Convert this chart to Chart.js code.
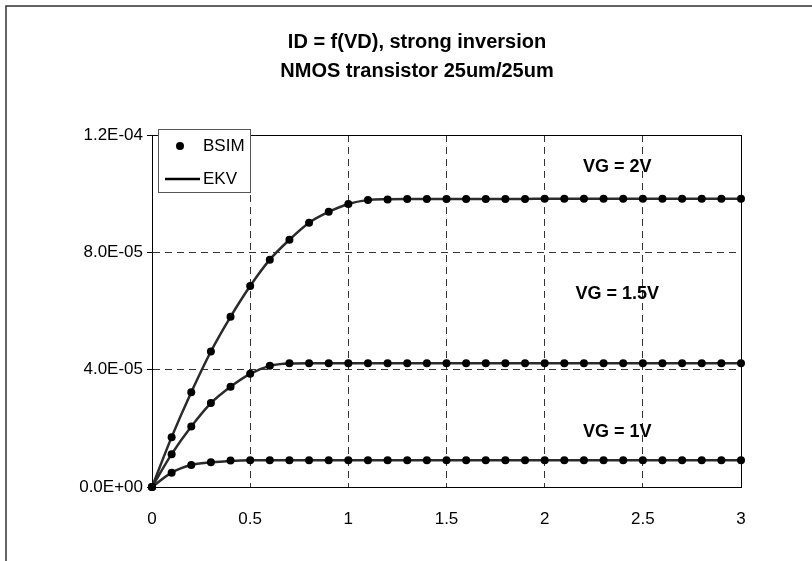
<!DOCTYPE html>
<html>
<head>
<meta charset="utf-8">
<script src="https://cdn.jsdelivr.net/npm/chart.js@4.4.1/dist/chart.umd.min.js"></script>
<style>
  html, body { margin: 0; padding: 0; background: #fff; }
  #wrap { width: 812px; height: 561px; }
</style>
</head>
<body>
<div id="wrap"><canvas id="chart" width="812" height="561"></canvas></div>
<script>
// VD (V)
const vd = [0, 0.1, 0.2, 0.3, 0.4, 0.5, 0.6, 0.7, 0.8, 0.9,
            1.0, 1.1, 1.2, 1.3, 1.4, 1.5, 1.6, 1.7, 1.8, 1.9,
            2.0, 2.1, 2.2, 2.3, 2.4, 2.5, 2.6, 2.7, 2.8, 2.9, 3.0];

// ID in units of 1e-5 A
const bsimVg2  = [0, 1.70, 3.23, 4.62, 5.80, 6.85, 7.75, 8.43, 9.01, 9.38,
                  9.65, 9.78, 9.80, 9.82, 9.82, 9.82, 9.82, 9.82, 9.82, 9.82,
                  9.83, 9.83, 9.83, 9.83, 9.83, 9.83, 9.83, 9.83, 9.83, 9.83, 9.83];
const bsimVg15 = [0, 1.12, 2.06, 2.86, 3.42, 3.86, 4.13, 4.22, 4.22, 4.22,
                  4.22, 4.22, 4.22, 4.22, 4.22, 4.22, 4.22, 4.22, 4.22, 4.22,
                  4.22, 4.22, 4.22, 4.22, 4.22, 4.22, 4.22, 4.22, 4.22, 4.22, 4.22];
const bsimVg1  = [0, 0.49, 0.75, 0.84, 0.90, 0.91, 0.91, 0.91, 0.91, 0.91,
                  0.91, 0.91, 0.91, 0.91, 0.91, 0.91, 0.91, 0.91, 0.91, 0.91,
                  0.91, 0.91, 0.91, 0.91, 0.91, 0.91, 0.91, 0.91, 0.91, 0.91, 0.91];

const ekvVg2  = [0, 1.70, 3.23, 4.62, 5.80, 6.85, 7.75, 8.43, 9.01, 9.38,
                 9.65, 9.78, 9.81, 9.82, 9.82, 9.82, 9.82, 9.82, 9.82, 9.82,
                 9.83, 9.83, 9.83, 9.83, 9.83, 9.83, 9.83, 9.83, 9.83, 9.83, 9.83];
const ekvVg15 = [0, 1.12, 2.06, 2.86, 3.42, 3.86, 4.13, 4.21, 4.22, 4.22,
                 4.22, 4.22, 4.22, 4.22, 4.22, 4.22, 4.22, 4.22, 4.22, 4.22,
                 4.22, 4.22, 4.22, 4.22, 4.22, 4.22, 4.22, 4.22, 4.22, 4.22, 4.22];
const ekvVg1  = [0, 0.49, 0.75, 0.84, 0.89, 0.91, 0.91, 0.91, 0.91, 0.91,
                 0.91, 0.91, 0.91, 0.91, 0.91, 0.91, 0.91, 0.91, 0.91, 0.91,
                 0.91, 0.91, 0.91, 0.91, 0.91, 0.91, 0.91, 0.91, 0.91, 0.91, 0.91];

const titleLines = ['ID = f(VD), strong inversion', 'NMOS transistor 25um/25um'];
const curveLabels = ['VG = 2V', 'VG = 1.5V', 'VG = 1V'];
const xTicks = [0, 0.5, 1, 1.5, 2, 2.5, 3];
const yTicks = [0, 4e-5, 8e-5, 1.2e-4];

const FONT = '"Liberation Sans", Arial, sans-serif';

function pts(ys) {
    return vd.map((x, i) => ({ x: x, y: ys[i] * 1e-5 }));
}

function sci(v) {
    const s = v.toExponential(1).split('e');
    const e = parseInt(s[1], 10);
    return s[0] + 'E' + (e < 0 ? '-' : '+') + String(Math.abs(e)).padStart(2, '0');
}

const bsimStyle = {
    showLine: false,
    pointRadius: 4,
    pointBackgroundColor: '#000',
    pointBorderColor: '#000',
    pointBorderWidth: 0,
    clip: false
};
const ekvStyle = {
    showLine: true,
    pointRadius: 0,
    borderColor: '#2b2b2b',
    borderWidth: 2.5,
    cubicInterpolationMode: 'monotone',
    clip: false
};

const chromePlugin = {
    id: 'chrome',
    beforeDraw(chart) {
        const ctx = chart.ctx;
        ctx.save();
        ctx.fillStyle = '#fff';
        ctx.fillRect(0, 0, chart.width, chart.height);
        // outer chart frame (continues past the picture edges)
        ctx.strokeStyle = '#333';
        ctx.lineWidth = 1.5;
        ctx.beginPath();
        ctx.moveTo(6, chart.height + 2);
        ctx.lineTo(6, 6);
        ctx.lineTo(chart.width + 2, 6);
        ctx.stroke();
        // title
        ctx.fillStyle = '#000';
        ctx.font = 'bold 20px ' + FONT;
        ctx.textAlign = 'center';
        ctx.textBaseline = 'middle';
        ctx.fillText(titleLines[0], 417, 42);
        ctx.fillText(titleLines[1], 417, 71);
        ctx.restore();
    },
    beforeDatasetsDraw(chart) {
        const {ctx, chartArea: a} = chart;
        ctx.save();
        ctx.strokeStyle = '#000';
        ctx.lineWidth = 1;
        ctx.beginPath();
        ctx.moveTo(a.left, a.top + 0.5);
        ctx.lineTo(a.right + 0.5, a.top + 0.5);
        ctx.lineTo(a.right + 0.5, a.bottom);
        ctx.stroke();
        ctx.restore();
    },
    afterDraw(chart) {
        const ctx = chart.ctx;
        const xs = chart.scales.x, ys = chart.scales.y;
        ctx.save();
        // curve labels
        ctx.fillStyle = '#000';
        ctx.font = 'bold 18px ' + FONT;
        ctx.textAlign = 'center';
        ctx.textBaseline = 'middle';
        const lx = xs.getPixelForValue(2.37);
        ctx.fillText(curveLabels[0], lx, ys.getPixelForValue(10.9e-5));
        ctx.fillText(curveLabels[1], lx, ys.getPixelForValue(6.58e-5));
        ctx.fillText(curveLabels[2], lx, ys.getPixelForValue(1.86e-5));

        // legend box
        const bx = 158.5, by = 129.5, bw = 92, bh = 63;
        ctx.fillStyle = '#fff';
        ctx.fillRect(bx, by, bw, bh);
        ctx.strokeStyle = '#555';
        ctx.lineWidth = 1;
        ctx.strokeRect(bx, by, bw, bh);
        ctx.fillStyle = '#000';
        ctx.beginPath();
        ctx.arc(180, 146, 4, 0, Math.PI * 2);
        ctx.fill();
        ctx.strokeStyle = '#000';
        ctx.lineWidth = 2.5;
        ctx.beginPath();
        ctx.moveTo(165, 179);
        ctx.lineTo(200, 179);
        ctx.stroke();
        ctx.font = '17px ' + FONT;
        ctx.textAlign = 'left';
        ctx.fillText('BSIM', 203, 146);
        ctx.fillText('EKV', 203, 179);
        ctx.restore();
    }
};

new Chart(document.getElementById('chart').getContext('2d'), {
    type: 'scatter',
    data: {
        datasets: [
            { label: 'BSIM', data: pts(bsimVg2), ...bsimStyle },
            { label: 'BSIM', data: pts(bsimVg15), ...bsimStyle },
            { label: 'BSIM', data: pts(bsimVg1), ...bsimStyle },
            { label: 'EKV', data: pts(ekvVg2), ...ekvStyle },
            { label: 'EKV', data: pts(ekvVg15), ...ekvStyle },
            { label: 'EKV', data: pts(ekvVg1), ...ekvStyle }
        ]
    },
    options: {
        responsive: false,
        animation: false,
        layout: { padding: { top: 135, right: 71, left: 0, bottom: 0 } },
        plugins: {
            legend: { display: false },
            title: { display: false },
            tooltip: { enabled: false }
        },
        scales: {
            x: {
                type: 'linear',
                min: 0,
                max: 3,
                afterFit(s) { s.height = 74; },
                afterBuildTicks(s) { s.ticks = xTicks.map(v => ({ value: v })); },
                ticks: {
                    color: '#000',
                    font: { family: FONT, size: 17 },
                    padding: 22,
                    maxRotation: 0,
                    callback: v => String(v)
                },
                grid: { color: '#333', lineWidth: 1, drawTicks: false },
                border: { color: '#000', width: 1, dash: [7, 5] }
            },
            y: {
                min: 0,
                max: 1.2e-4,
                afterFit(s) { s.width = 152; },
                afterBuildTicks(s) { s.ticks = yTicks.map(v => ({ value: v })); },
                ticks: {
                    color: '#000',
                    font: { family: FONT, size: 17 },
                    padding: 4,
                    callback: v => sci(v)
                },
                grid: { color: '#333', lineWidth: 1, tickLength: 5, tickColor: '#000' },
                border: { color: '#000', width: 1, dash: [7, 5] }
            }
        }
    },
    plugins: [chromePlugin]
});
</script>
</body>
</html>
